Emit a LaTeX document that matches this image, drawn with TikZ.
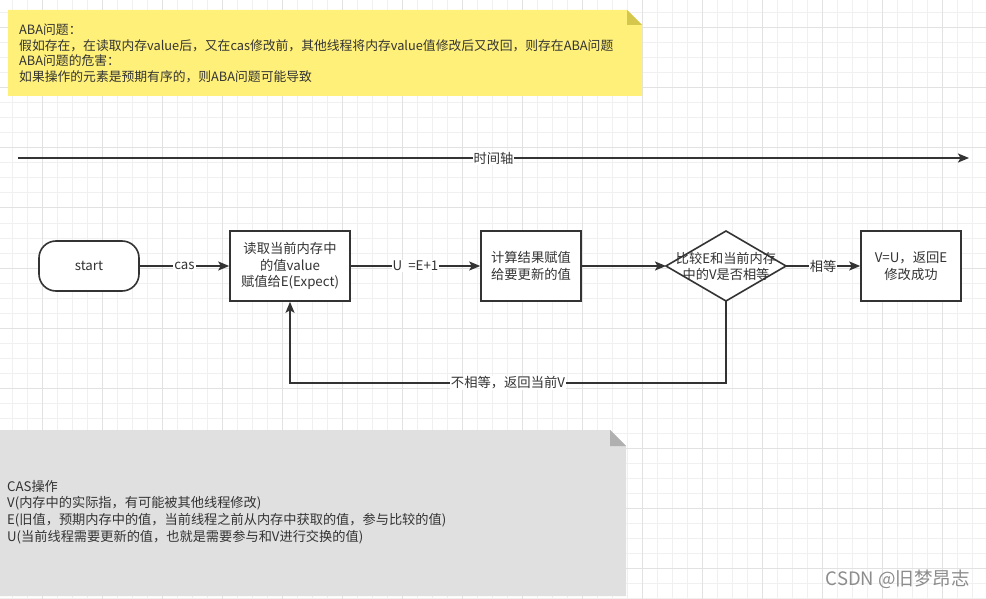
\documentclass[tikz,border=0pt]{standalone}
\usepackage{fontspec}
\setmainfont{Noto Sans CJK SC}
\usetikzlibrary{arrows.meta,calc}
\definecolor{ink}{HTML}{333333}
\definecolor{gminor}{HTML}{F0F0F0}
\definecolor{gmajor}{HTML}{E2E2E2}
\definecolor{noteY}{HTML}{FFF07A}
\definecolor{foldY}{HTML}{D5C64C}
\definecolor{noteG}{HTML}{E0E0E0}
\definecolor{foldG}{HTML}{B0B0B0}
\definecolor{wm}{HTML}{8C8C8C}
\begin{document}
\begin{tikzpicture}[x=1pt,y=-1pt,
  box/.style={draw=ink, line width=1.6pt, fill=white, minimum width=120pt, minimum height=70pt, inner sep=0pt, align=center, text=ink, font=\fontsize{13.3}{16.5}\selectfont},
  arr/.style={draw=ink, line width=1.6pt, -{Stealth[length=11pt,width=9pt,inset=2.5pt]}},
  lbl/.style={fill=white, inner sep=1pt, text=ink, font=\fontsize{13.3}{15}\selectfont},
  notetxt/.style={anchor=west, align=left, inner sep=0pt, text=ink},
  gridminor/.style={draw=gminor, line width=1pt},
  gridmajor/.style={draw=gmajor, line width=1pt},
]
\useasboundingbox (0,0) rectangle (986,599);
\clip (0,0) rectangle (986,599);
\fill[white] (0,0) rectangle (986,599);
% grid
\foreach \x in {12,27,...,987} \draw[gridminor] (\x,0) -- (\x,599);
\foreach \y in {13,28,...,598} \draw[gridminor] (0,\y) -- (986,\y);
\foreach \x in {42,102,...,986} \draw[gridmajor] (\x,0) -- (\x,599);
\foreach \y in {28,88,...,598} \draw[gridmajor] (0,\y) -- (986,\y);

% top note
\fill[noteY] (8,10) -- (627,10) -- (642,25) -- (642,96) -- (8,96) -- cycle;
\fill[foldY] (627,10) -- (642,25) -- (627,25) -- cycle;
\node[notetxt, font=\fontsize{12.8}{15.7}\selectfont] (topnote) at (19,53.5) {ABA问题：\\假如存在，在读取内存value后，又在cas修改前，其他线程将内存value值修改后又改回，则存在ABA问题\\ABA问题的危害：\\如果操作的元素是预期有序的，则ABA问题可能导致};

% time axis
\coordinate (t0) at (18,158);
\coordinate (t1) at (969,158);
\draw[arr] (t0) -- node[lbl] (tlbl) {时间轴} (t1);

% flow
\node[box, rounded corners=17pt, minimum width=100pt, minimum height=50pt] (start) at (89,266) {start};
\node[box] (read) at (290,266) {读取当前内存中\\的值value\\赋值给E(Expect)};
\node[box, minimum width=100pt] (calc) at (531,266) {计算结果赋值\\给要更新的值};
\node[inner sep=0pt, outer sep=0pt, minimum width=120pt, minimum height=70pt] (dia) at (726,266) {};
\filldraw[draw=ink, fill=white, line width=1.6pt] (dia.north) -- (dia.east) -- (dia.south) -- (dia.west) -- cycle;
\node[align=center, inner sep=0pt, text=ink, font=\fontsize{13.2}{16}\selectfont] (diatxt) at (dia.center) {比较E和当前内存\\中的V是否相等};
\node[box, minimum width=100pt] (ok) at (911,266) {V=U，返回E\\修改成功};

\draw[arr] (start) -- node[lbl] (l1) {cas} (read);
\draw[arr] (read) -- node[lbl] (l2) {U\ \ =E+1} (calc);
\draw[arr] (calc) -- (dia.west);
\draw[arr] (dia.east) -- node[lbl] (l3) {相等} (ok);
\coordinate (fb) at (726,383);
\draw[arr] (dia.south) -- (fb) -| node[lbl, pos=0.25] (l4) {不相等，返回当前V} (read.south);

% bottom note
\fill[noteG] (0,430) -- (610,430) -- (626,446) -- (626,596) -- (0,596) -- cycle;
\fill[foldG] (610,430) -- (626,446) -- (610,446) -- cycle;
\node[notetxt, font=\fontsize{13.2}{16.7}\selectfont] (casnote) at (7,512) {CAS操作\\V(内存中的实际指，有可能被其他线程修改)\\E(旧值，预期内存中的值，当前线程之前从内存中获取的值，参与比较的值)\\U(当前线程需要更新的值，也就是需要参与和V进行交换的值)};

% watermark
\node[anchor=east, inner sep=0pt, text=wm, font=\fontsize{18.5}{18.5}\selectfont] (wmk) at (970,579) {CSDN @旧梦昂志};
\end{tikzpicture}
\end{document}
